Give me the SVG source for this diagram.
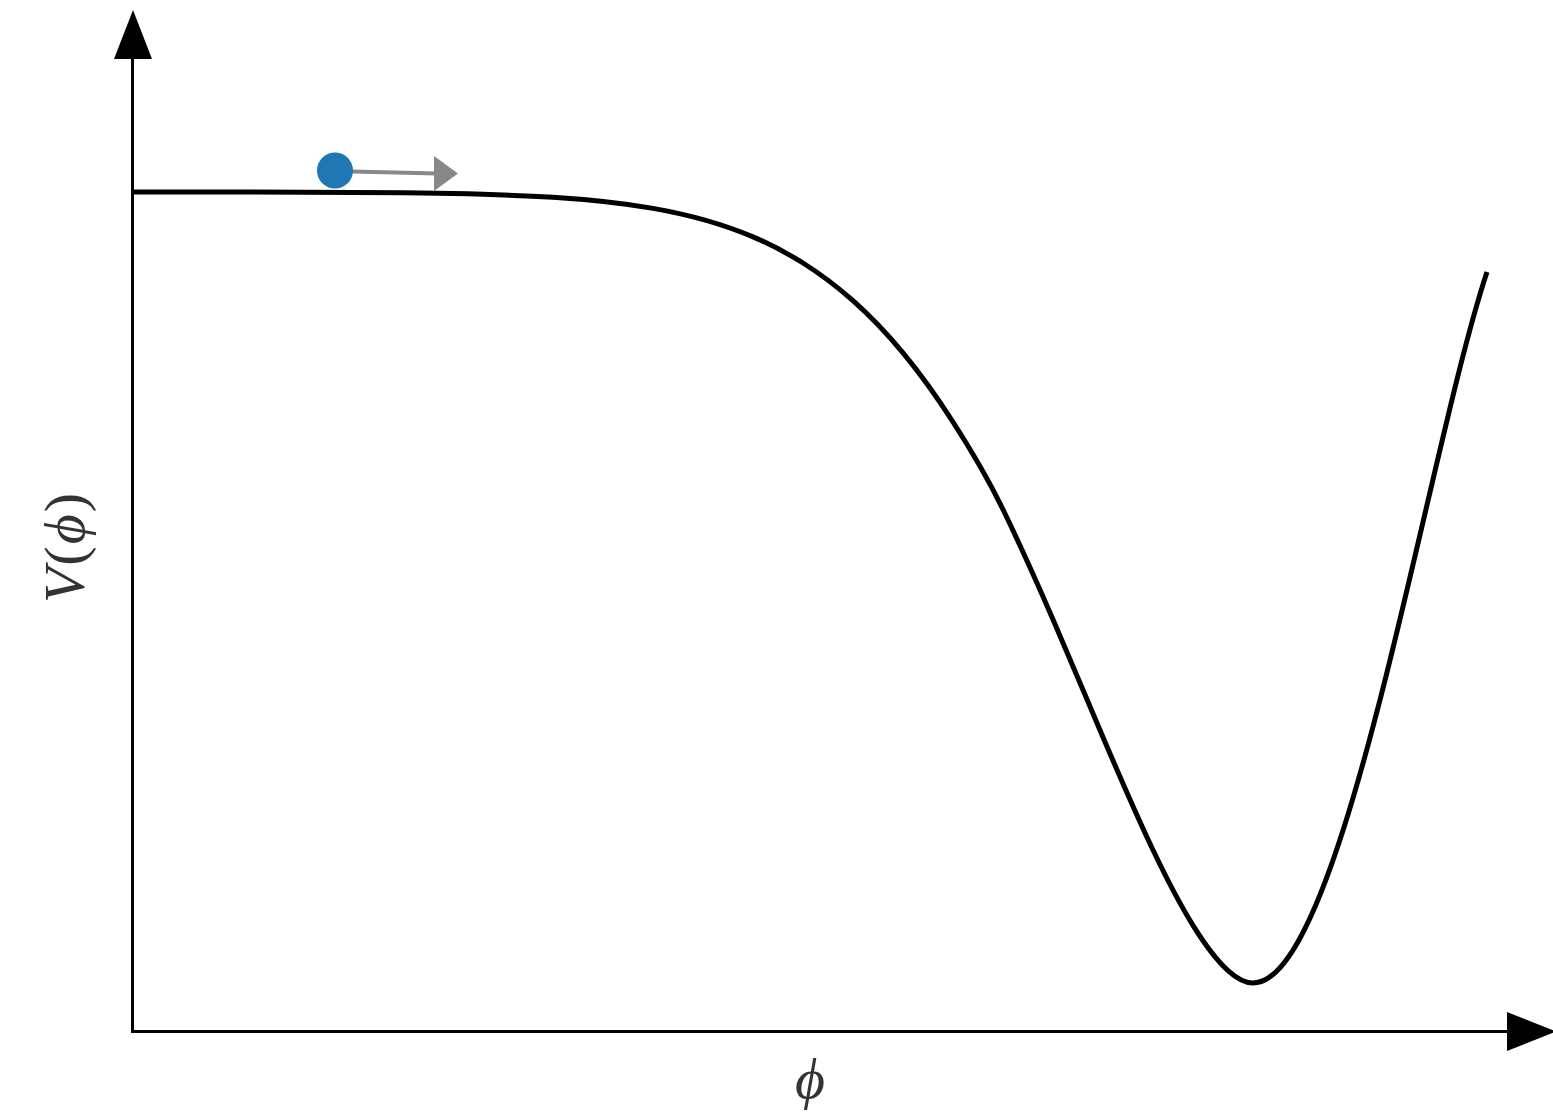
<svg xmlns="http://www.w3.org/2000/svg" width="1553" height="1119" viewBox="0 0 1553 1119">
<style>
.axis{stroke:#000;stroke-width:3;fill:none}
.head{fill:#000}
.curve{stroke:#000;stroke-width:5;fill:none;stroke-linejoin:round}
.lbl{font-family:"Liberation Serif","DejaVu Serif",serif;fill:#333}
.it{font-style:italic}
</style>
<rect width="1553" height="1119" fill="#fff"/>
<g id="axes">
<line class="axis" x1="132.5" y1="1032" x2="132.5" y2="55"/>
<polygon class="head" points="133,10 114,59 152,59"/>
<line class="axis" x1="131" y1="1031.5" x2="1510" y2="1031.5"/>
<polygon class="head" points="1507,1012 1507,1051 1556,1031.5"/>
</g>
<g id="potential">
<path class="curve" d="M132,192 C205.7,192 279.3,192 353,192.4 C386.3,192.6 419.7,192.9 453,193.6 C486.3,194.3 519.7,195.2 553,197.3 C586.3,199.4 619.7,202.6 653,208.4 C686.3,214.2 719.7,222.75 753,236.9 C769.7,244 786.3,252.5 803,263 C819.7,273.5 836.3,285.9 853,300.7 C869.7,315.5 886.3,332.8 903,352.9 C919.7,373 936.3,396 953,422 C969.7,448 986.3,475.1 1003,509.5 C1019.7,543.9 1036.3,581 1053,619.5 C1069.7,658 1086.3,698 1103,737.2 C1119.7,776.4 1136.3,815 1153,850 C1166.3,878 1179.7,903.8 1193,925.4 C1204.7,944.3 1216.3,960 1228,970.6 C1236.3,978.1 1244.7,983 1253,983 C1343,983 1427,452 1487,272"/>
</g>
<g id="ball">
<line x1="352" y1="171.5" x2="437" y2="173.5" stroke="#888" stroke-width="4"/>
<polygon points="434,156 434,191 458,173.5" fill="#888"/>
<circle cx="335" cy="170.5" r="18" fill="#1f77b4"/>
</g>
<g id="labels">
<text class="lbl" font-size="58" text-anchor="middle" letter-spacing="2" transform="translate(84,547) rotate(-90)"><tspan class="it">V</tspan>(<tspan class="it">ϕ</tspan>)</text>
<text class="lbl it" font-size="58" text-anchor="middle" x="810" y="1098">ϕ</text>
</g>
</svg>
